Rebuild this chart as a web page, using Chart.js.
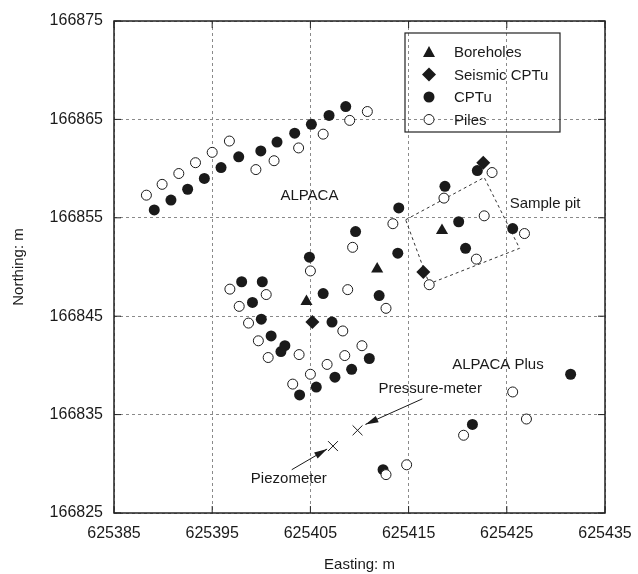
<!DOCTYPE html>
<html>
<head>
<meta charset="utf-8">
<script src="https://cdn.jsdelivr.net/npm/chart.js@4/dist/chart.umd.min.js"></script>
<style>
  body { margin: 0; background: #fff; }
  #wrap { width: 638px; height: 574px; }
</style>
</head>
<body>
<div id="wrap"><canvas id="myChart" width="638" height="574"></canvas></div>
<script>
// site investigation locations (easting / northing, m)
const boreholeX = [625404.6, 625411.8, 625418.4];
const boreholeY = [166846.5, 166849.8, 166853.7];

const seismicX = [625405.2, 625416.5, 625422.6];
const seismicY = [166844.4, 166849.5, 166860.6];

const cptuX = [625389.1, 625390.8, 625392.5, 625394.2, 625395.9, 625397.7, 625399.95, 625401.6,
    625403.4, 625405.1, 625406.9, 625408.6, 625418.7, 625422.0, 625414.0, 625420.1, 625425.6,
    625409.6, 625413.9, 625420.8, 625404.9, 625398.0, 625400.1, 625399.1, 625406.3, 625412.0,
    625400.0, 625407.2, 625401.0, 625402.0, 625402.4, 625411.0, 625409.2, 625407.5, 625405.6,
    625403.9, 625431.5, 625421.5, 625412.4];
const cptuY = [166855.8, 166856.8, 166857.9, 166859.0, 166860.1, 166861.2, 166861.8, 166862.7,
    166863.6, 166864.5, 166865.4, 166866.3, 166858.2, 166859.8, 166856.0, 166854.6, 166853.9,
    166853.6, 166851.4, 166851.9, 166851.0, 166848.5, 166848.5, 166846.4, 166847.3, 166847.1,
    166844.7, 166844.4, 166843.0, 166841.4, 166842.0, 166840.7, 166839.6, 166838.8, 166837.8,
    166837.0, 166839.1, 166834.0, 166829.4];

const pilesX = [625388.3, 625389.9, 625391.6, 625393.3, 625395.0, 625396.75, 625399.45, 625401.3,
    625403.8, 625406.3, 625409.0, 625410.8, 625418.6, 625423.5, 625422.7, 625413.4, 625426.8,
    625409.3, 625421.9, 625405.0, 625417.1, 625396.8, 625400.5, 625408.8, 625397.75, 625412.7,
    625398.7, 625408.3, 625399.7, 625410.25, 625400.7, 625403.85, 625408.5, 625406.7, 625405.0,
    625403.2, 625425.6, 625427.0, 625420.6, 625414.8, 625412.7];
const pilesY = [166857.3, 166858.4, 166859.5, 166860.6, 166861.65, 166862.8, 166859.9, 166860.8,
    166862.1, 166863.5, 166864.9, 166865.8, 166857.0, 166859.6, 166855.2, 166854.4, 166853.4,
    166852.0, 166850.8, 166849.6, 166848.2, 166847.75, 166847.2, 166847.7, 166846.0, 166845.8,
    166844.3, 166843.5, 166842.5, 166842.0, 166840.8, 166841.1, 166841.0, 166840.1, 166839.1,
    166838.1, 166837.3, 166834.55, 166832.9, 166829.9, 166828.9];

// piezometer, pressure-meter
const crossX = [625407.3, 625409.8];
const crossY = [166831.8, 166833.4];

// sample pit outline corners
const pitX = [625414.7, 625422.7, 625426.3, 625417.1];
const pitY = [166854.8, 166859.1, 166851.9, 166848.3];

const xTicks = [625385, 625395, 625405, 625415, 625425, 625435];
const yTicks = [166825, 166835, 166845, 166855, 166865, 166875];

const legendNames = ['Boreholes', 'Seismic CPTu', 'CPTu', 'Piles'];

function pts(xs, ys) {
    return xs.map((x, i) => ({x: x, y: ys[i]}));
}

const FONT = '"Liberation Sans", Arial, Helvetica, sans-serif';
const INK = '#1a1a1a';

const labels = [
    {text: 'ALPACA', x: 625404.9, y: 166857.2},
    {text: 'Sample pit', x: 625428.9, y: 166856.4},
    {text: 'ALPACA Plus', x: 625424.1, y: 166840.1},
    {text: 'Pressure-meter', x: 625417.2, y: 166837.6},
    {text: 'Piezometer', x: 625402.8, y: 166828.5}
];
const arrows = [
    {x0: 625416.4, y0: 166836.6, x1: 625410.6, y1: 166834.0},
    {x0: 625403.1, y0: 166829.4, x1: 625406.7, y1: 166831.5}
];

function drawSymbol(ctx, kind, x, y) {
    ctx.save();
    ctx.fillStyle = INK;
    ctx.strokeStyle = INK;
    ctx.lineWidth = 1;
    ctx.beginPath();
    if (kind === 0) {
        ctx.moveTo(x, y - 6); ctx.lineTo(x + 6, y + 5); ctx.lineTo(x - 6, y + 5); ctx.closePath(); ctx.fill();
    } else if (kind === 1) {
        ctx.moveTo(x, y - 7); ctx.lineTo(x + 7, y); ctx.lineTo(x, y + 7); ctx.lineTo(x - 7, y); ctx.closePath(); ctx.fill();
    } else if (kind === 2) {
        ctx.arc(x, y, 5.5, 0, Math.PI * 2); ctx.fill();
    } else {
        ctx.fillStyle = '#fff';
        ctx.arc(x, y, 5, 0, Math.PI * 2); ctx.fill(); ctx.stroke();
    }
    ctx.restore();
}

const overlay = {
    id: 'overlay',
    beforeDatasetsDraw(chart) {
        const ctx = chart.ctx, xs = chart.scales.x, ys = chart.scales.y;
        // sample pit outline
        ctx.save();
        ctx.strokeStyle = '#333';
        ctx.lineWidth = 1;
        ctx.setLineDash([3, 3]);
        ctx.beginPath();
        pitX.forEach((v, i) => {
            const px = xs.getPixelForValue(v), py = ys.getPixelForValue(pitY[i]);
            if (i === 0) ctx.moveTo(px, py); else ctx.lineTo(px, py);
        });
        ctx.closePath();
        ctx.stroke();
        ctx.restore();
    },
    afterDraw(chart) {
        const ctx = chart.ctx, a = chart.chartArea, xs = chart.scales.x, ys = chart.scales.y;
        ctx.save();
        // frame
        ctx.strokeStyle = '#222';
        ctx.lineWidth = 1.5;
        ctx.strokeRect(a.left, a.top, a.right - a.left, a.bottom - a.top);
        // inward ticks
        ctx.lineWidth = 1;
        ctx.beginPath();
        xTicks.forEach(v => {
            const px = xs.getPixelForValue(v);
            ctx.moveTo(px, a.bottom); ctx.lineTo(px, a.bottom - 7);
            ctx.moveTo(px, a.top); ctx.lineTo(px, a.top + 7);
        });
        yTicks.forEach(v => {
            const py = ys.getPixelForValue(v);
            ctx.moveTo(a.left, py); ctx.lineTo(a.left + 7, py);
            ctx.moveTo(a.right, py); ctx.lineTo(a.right - 7, py);
        });
        ctx.stroke();

        // annotation text
        ctx.fillStyle = INK;
        ctx.font = '15px ' + FONT;
        ctx.textAlign = 'center';
        ctx.textBaseline = 'middle';
        labels.forEach(l => ctx.fillText(l.text, xs.getPixelForValue(l.x), ys.getPixelForValue(l.y)));

        // arrows
        arrows.forEach(r => {
            const x0 = xs.getPixelForValue(r.x0), y0 = ys.getPixelForValue(r.y0);
            const x1 = xs.getPixelForValue(r.x1), y1 = ys.getPixelForValue(r.y1);
            const ang = Math.atan2(y1 - y0, x1 - x0);
            ctx.strokeStyle = INK;
            ctx.lineWidth = 1;
            ctx.beginPath(); ctx.moveTo(x0, y0); ctx.lineTo(x1, y1); ctx.stroke();
            ctx.beginPath();
            ctx.moveTo(x1, y1);
            ctx.lineTo(x1 - 13 * Math.cos(ang) + 3.5 * Math.sin(ang), y1 - 13 * Math.sin(ang) - 3.5 * Math.cos(ang));
            ctx.lineTo(x1 - 13 * Math.cos(ang) - 3.5 * Math.sin(ang), y1 - 13 * Math.sin(ang) + 3.5 * Math.cos(ang));
            ctx.closePath();
            ctx.fill();
        });

        // legend box
        const lx = 405, ly = 33, lw = 155, lh = 99;
        ctx.strokeStyle = '#222';
        ctx.lineWidth = 1.2;
        ctx.strokeRect(lx, ly, lw, lh);
        ctx.textAlign = 'left';
        legendNames.forEach((name, i) => {
            const yy = 52 + i * 22.5;
            drawSymbol(ctx, i, 429, yy);
            ctx.fillStyle = INK;
            ctx.fillText(name, 454, yy + 1);
        });
        ctx.restore();
    }
};

const ctx = document.getElementById('myChart').getContext('2d');
let myChart = new Chart(ctx, {
    type: 'scatter',
    data: {
        datasets: [
            {label: legendNames[0], data: pts(boreholeX, boreholeY), pointStyle: 'triangle', pointRadius: 7,
                backgroundColor: INK, borderColor: INK, borderWidth: 0, order: 0},
            {label: legendNames[1], data: pts(seismicX, seismicY), pointStyle: 'rectRot', pointRadius: 7,
                backgroundColor: INK, borderColor: INK, borderWidth: 0, order: 0},
            {label: legendNames[2], data: pts(cptuX, cptuY), pointStyle: 'circle', pointRadius: 5.5,
                backgroundColor: INK, borderColor: INK, borderWidth: 0, order: 2},
            {label: legendNames[3], data: pts(pilesX, pilesY), pointStyle: 'circle', pointRadius: 5,
                backgroundColor: '#fff', borderColor: INK, borderWidth: 1, order: 1},
            {label: 'Instruments', data: pts(crossX, crossY), pointStyle: 'crossRot', pointRadius: 7,
                backgroundColor: INK, borderColor: INK, borderWidth: 1, order: 0}
        ]
    },
    options: {
        responsive: false,
        animation: false,
        events: [],
        layout: {padding: {top: 21, right: 33, left: 0, bottom: 0}},
        plugins: {legend: {display: false}, tooltip: {enabled: false}},
        scales: {
            x: {
                type: 'linear', min: 625385, max: 625435,
                afterFit: s => { s.height = 61; s.paddingLeft = 0; s.paddingRight = 0; },
                afterBuildTicks: s => { s.ticks = xTicks.map(v => ({value: v})); },
                ticks: {color: INK, font: {family: FONT, size: 16}, padding: 11, maxRotation: 0,
                    callback: v => String(v)},
                grid: {color: '#8a8a8a', lineWidth: 1, drawTicks: false},
                border: {display: false, dash: [3, 3]},
                title: {display: true, text: 'Easting: m', color: INK,
                    font: {family: FONT, size: 15}, padding: {top: 0, bottom: 0}}
            },
            y: {
                type: 'linear', min: 166825, max: 166875,
                afterFit: s => { s.width = 114; s.paddingTop = 0; s.paddingBottom = 0; },
                afterBuildTicks: s => { s.ticks = yTicks.map(v => ({value: v})); },
                ticks: {color: INK, font: {family: FONT, size: 16}, padding: 11,
                    callback: v => String(v)},
                grid: {color: '#8a8a8a', lineWidth: 1, drawTicks: false},
                border: {display: false, dash: [3, 3]},
                title: {display: true, text: 'Northing: m', color: INK,
                    font: {family: FONT, size: 15}, padding: {top: 10, bottom: 0}}
            }
        }
    },
    plugins: [overlay]
});
</script>
</body>
</html>
